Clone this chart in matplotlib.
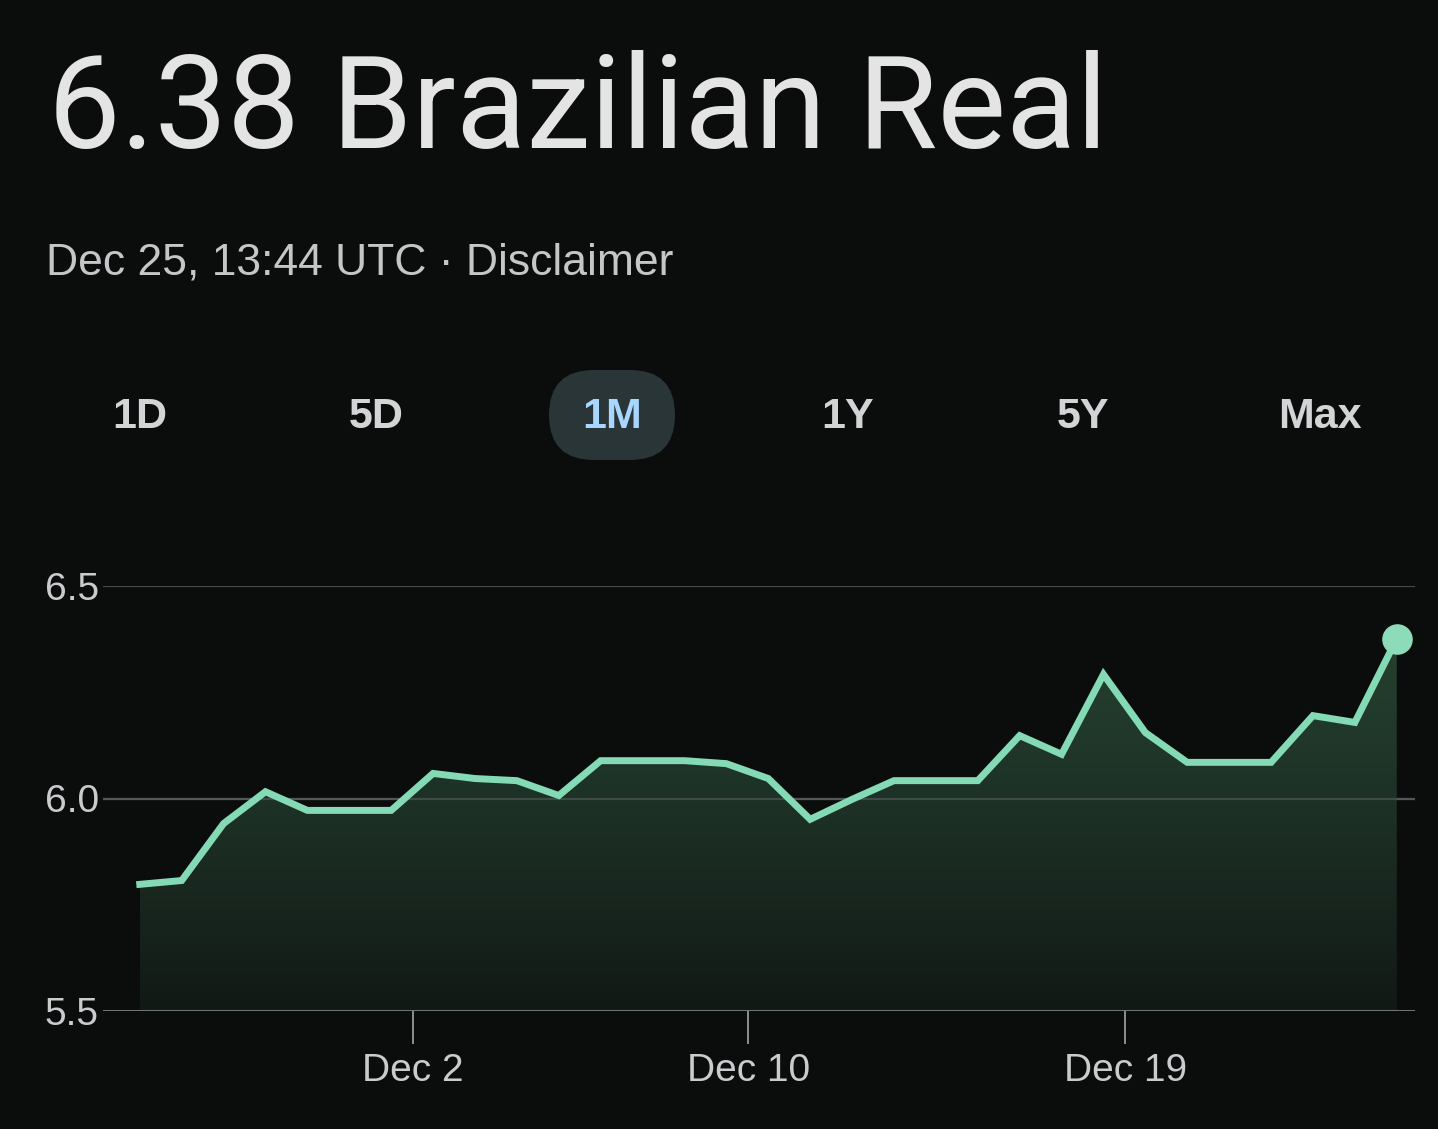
import datetime as dt
import numpy as np
import matplotlib
matplotlib.use("Agg")
import matplotlib.pyplot as plt
import matplotlib.dates as mdates
from matplotlib.patches import FancyBboxPatch

# daily BRL per USD, Nov 25 - Dec 25
start = dt.datetime(2024, 11, 25, 11, 30)
dates = [start + dt.timedelta(days=i) for i in range(31)]
rates = [5.798, 5.807, 5.941, 6.016, 5.972, 5.972, 5.972, 6.059, 6.047, 6.042,
         6.007, 6.089, 6.089, 6.089, 6.082, 6.047, 5.951, 5.998, 6.042, 6.042,
         6.042, 6.148, 6.104, 6.292, 6.155, 6.085, 6.085, 6.085, 6.195, 6.179,
         6.376]

yticks = [5.5, 6.0, 6.5]
ytick_labels = ["5.5", "6.0", "6.5"]
xtick_dates = [dt.datetime(2024, 12, 2), dt.datetime(2024, 12, 10), dt.datetime(2024, 12, 19)]
xtick_labels = ["Dec 2", "Dec 10", "Dec 19"]
ranges = ["1D", "5D", "1M", "1Y", "5Y", "Max"]
selected = "1M"

title = "6.38 Brazilian Real"
subtitle = "Dec 25, 13:44 UTC \u00b7 Disclaimer"

bg = "#0b0d0d"
line_color = "#84dab4"
grid_color = "#454a4b"
text_color = "#c9cbcd"

W, H = 1438, 1129
fig = plt.figure(figsize=(W / 100, H / 100), dpi=100, facecolor=bg)

# header
fig.text(48 / W, 1 - 148 / H, title, fontsize=93, color="#e4e4e4",
         family="Roboto", va="baseline", ha="left")
fig.text(46 / W, 1 - 275 / H, subtitle, fontsize=32, color="#c4c6c8",
         family="Liberation Sans", va="baseline", ha="left")

# range selector
centers = [140, 376, 612, 848, 1083, 1320]
for label, cx in zip(ranges, centers):
    if label == selected:
        pill = FancyBboxPatch(((cx - 63) / 100, (H - 460) / 100), 1.26, 0.90,
                              boxstyle="round,pad=0,rounding_size=0.45",
                              transform=fig.dpi_scale_trans,
                              facecolor="#2a3538", edgecolor="none")
        fig.patches.append(pill)
        col = "#a9d6ff"
    else:
        col = "#d2d4d6"
    fig.text(cx / W, 1 - 417 / H, label, fontsize=31, fontweight="bold",
             color=col, family="Liberation Sans", ha="center", va="center")

# chart
ax = fig.add_axes([103 / W, 1 - 1011 / H, (1415 - 103) / W, (1011 - 586) / H])
ax.set_facecolor(bg)
x = mdates.date2num(dates)
dec2 = mdates.date2num(xtick_dates[0])
px_per_day = 41.9
ax.set_xlim(dec2 - (413 - 103) / px_per_day, dec2 + (1415 - 413) / px_per_day)
ax.set_ylim(5.5, 6.5)

for yv in yticks[1:]:
    ax.axhline(yv, color=grid_color, lw=1.6, zorder=1)

# gradient fill under the line
poly = ax.fill_between(x, rates, 5.5, color="none", zorder=2)
grad = np.linspace(0, 1, 256).reshape(-1, 1)
cmap = matplotlib.colors.LinearSegmentedColormap.from_list(
    "g", ["#121915", "#1c2f25", "#25412f"])
im = ax.imshow(grad, cmap=cmap, aspect="auto", origin="lower",
               extent=[x[0], x[-1], 5.5, max(rates)], zorder=2)
im.set_clip_path(poly.get_paths()[0], transform=ax.transData)

ax.axhline(6.0, color="#5c6263", lw=1.6, zorder=3, alpha=0.55)
ax.axhline(5.5, color="#6e7475", lw=2.2, zorder=3)

ax.plot(x, rates, color=line_color, lw=5, solid_joinstyle="miter", zorder=4)
ax.plot(x[-1], rates[-1], "o", color="#8cdcba", markersize=21, zorder=5,
        clip_on=False)

for s in ax.spines.values():
    s.set_visible(False)
ax.set_yticks(yticks)
ax.set_yticklabels(ytick_labels)
ax.set_xticks(mdates.date2num(xtick_dates))
ax.set_xticklabels(xtick_labels)
ax.tick_params(axis="y", length=0, pad=3, labelsize=28, labelcolor=text_color)
ax.tick_params(axis="x", length=24, width=1.4, color="#8a8f90", direction="out",
               pad=6, labelsize=28, labelcolor=text_color)
for lab in ax.get_xticklabels() + ax.get_yticklabels():
    lab.set_family("Liberation Sans")

fig.savefig("out.png", dpi=100, facecolor=bg)
